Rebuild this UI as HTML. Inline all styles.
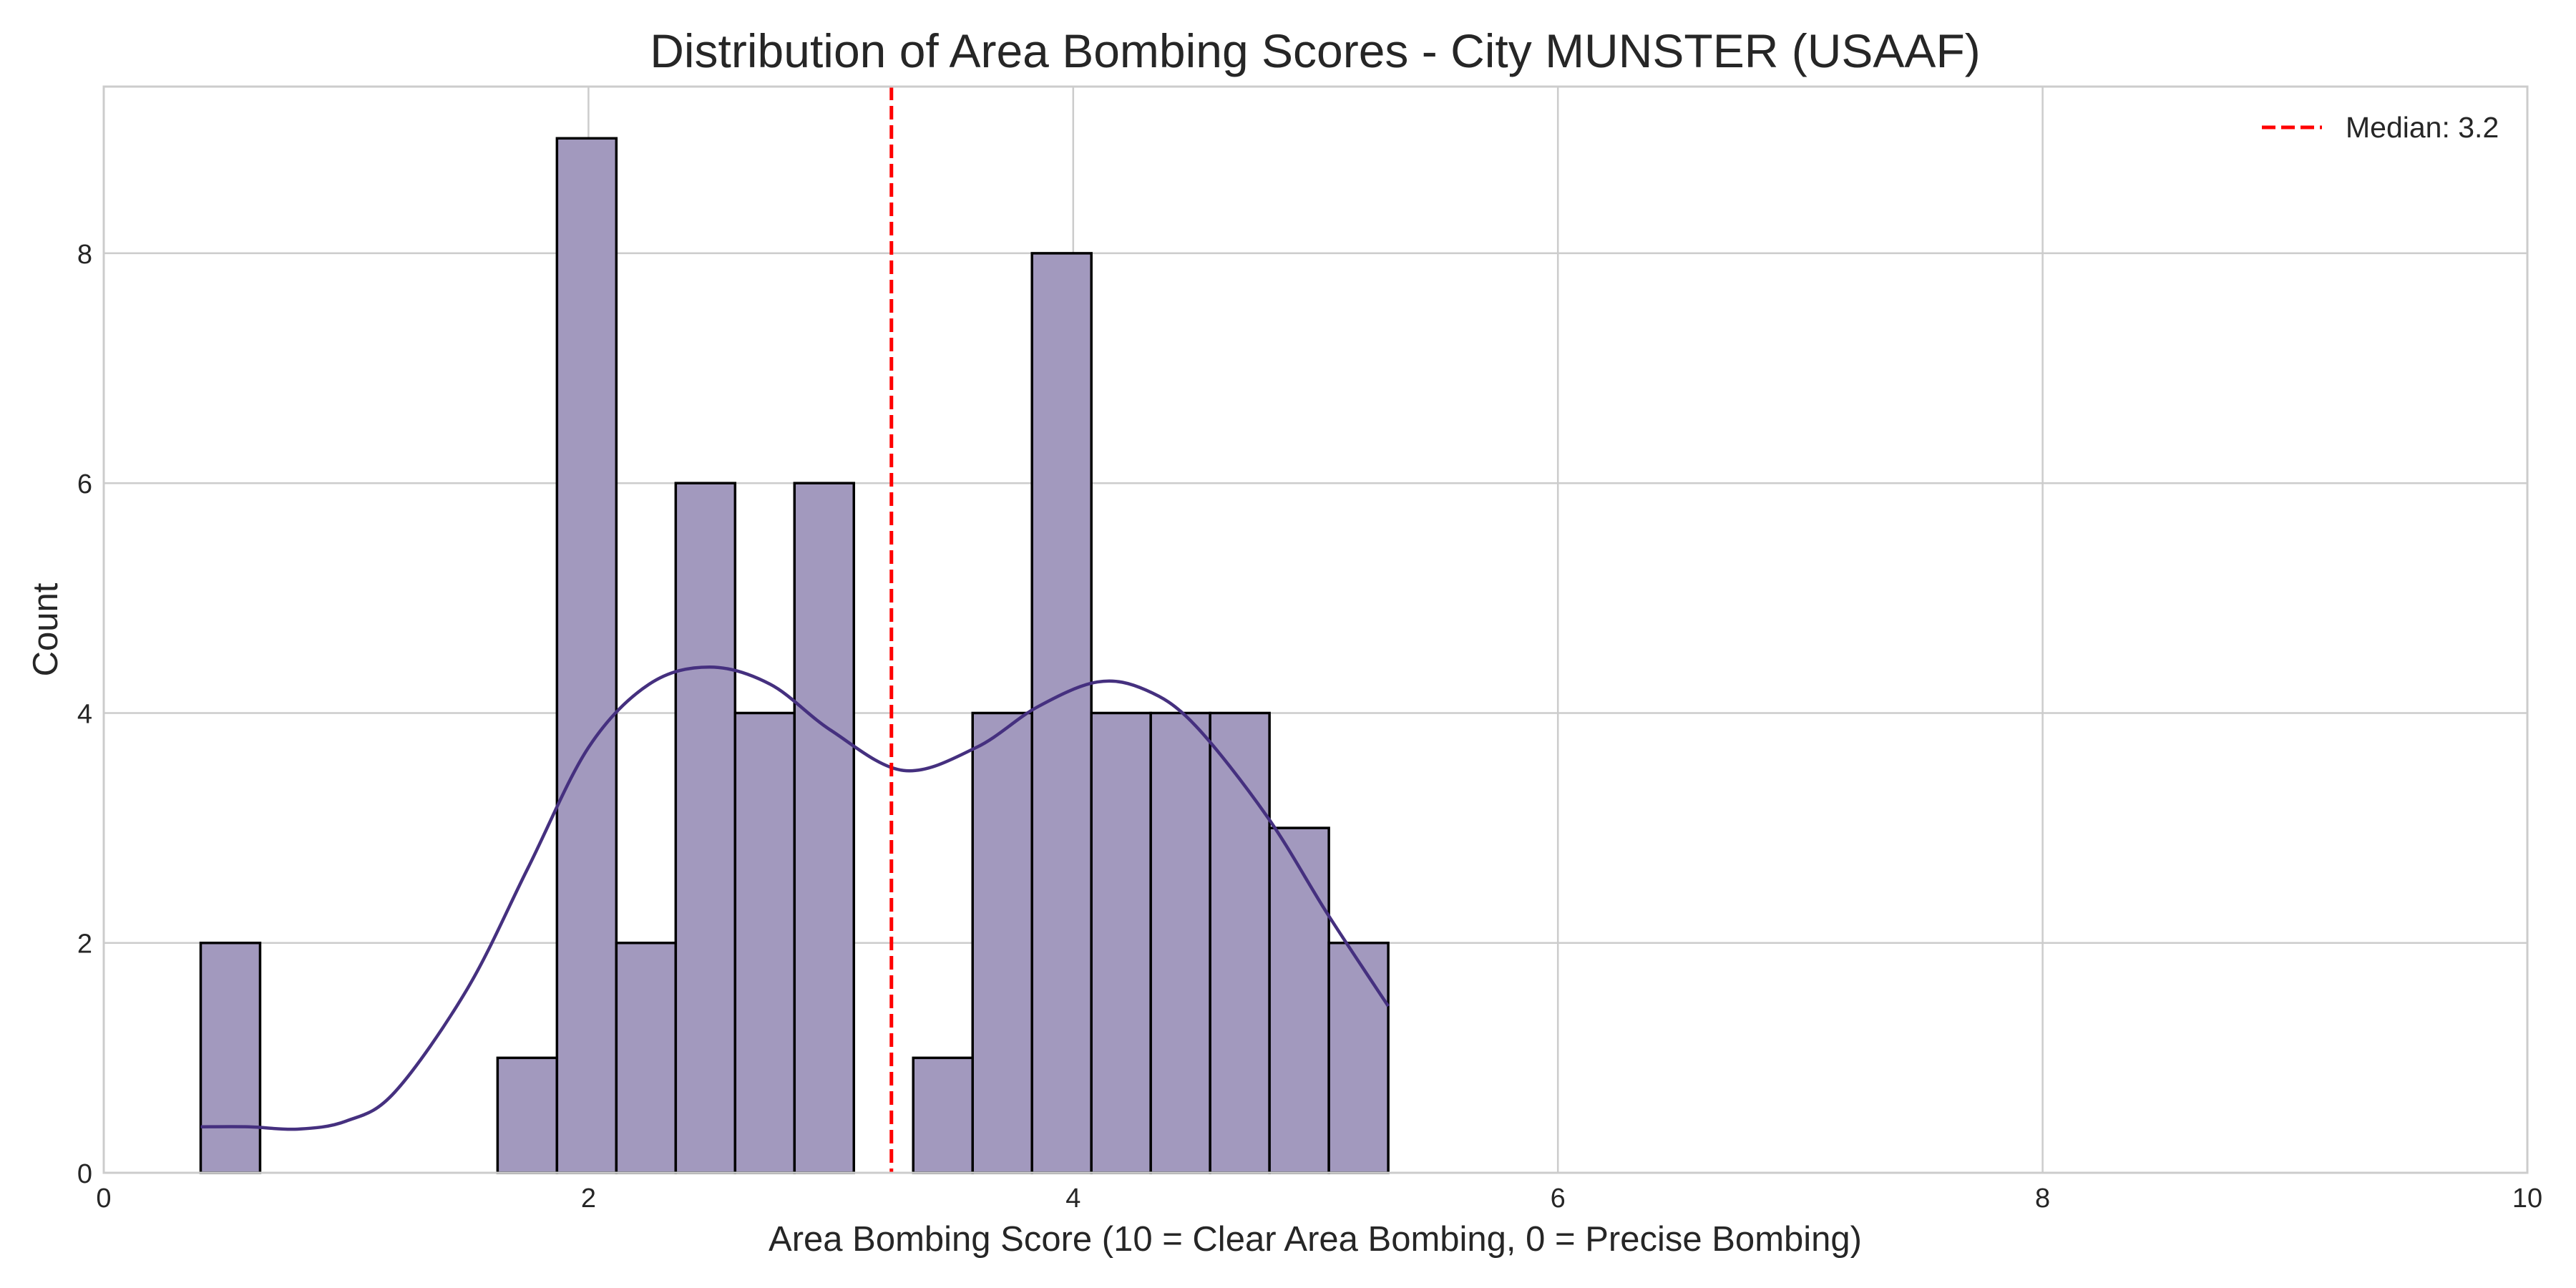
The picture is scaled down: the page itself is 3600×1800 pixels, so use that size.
<!DOCTYPE html>
<html><head><meta charset="utf-8"><style>
html,body{margin:0;padding:0;background:#fff;}
svg{display:block;font-family:"Liberation Sans",Arial,sans-serif;}
</style></head><body>
<svg id="chart" width="3600" height="1800" viewBox="0 0 3600 1800" xmlns="http://www.w3.org/2000/svg">
<rect width="3600" height="1800" fill="#fff"/>
<g id="grid"></g>
<g id="bars"></g>
<g id="kde"></g>
<g id="median"></g>
<g id="frame"></g>
<g id="ticks"></g>
<text x="1838" y="94" font-size="66" text-anchor="middle" fill="#262626">Distribution of Area Bombing Scores - City MUNSTER (USAAF)</text>
<text x="1838" y="1748" font-size="49" text-anchor="middle" fill="#262626">Area Bombing Score (10 = Clear Area Bombing, 0 = Precise Bombing)</text>
<text x="0" y="0" font-size="49" text-anchor="middle" fill="#262626" transform="translate(80,880) rotate(-90)">Count</text>
<g>
<line x1="3161" y1="178" x2="3245" y2="178" stroke="#ff0000" stroke-width="5" stroke-dasharray="19,8"/>
<text x="3278" y="192" font-size="41" fill="#262626">Median: 3.2</text>
</g>
</svg>
<script>
const binStart = 0.4;
const binWidth = 0.245;
const counts = [2,0,0,0,0,1,9,2,6,4,6,0,1,4,8,4,4,4,3,2];
const kdeX = [0.4,0.6,0.8,1.0,1.2,1.5,1.75,2.0,2.25,2.5,2.75,3.0,3.3,3.6,3.85,4.1,4.3,4.5,4.8,5.05,5.3];
const kdeY = [0.4,0.4,0.38,0.45,0.7,1.6,2.65,3.7,4.25,4.4,4.25,3.85,3.5,3.7,4.05,4.27,4.2,3.9,3.1,2.25,1.45];
const medianValue = 3.25;
const xTicks = [0,2,4,6,8,10];
const yTicks = [0,2,4,6,8];

const L=145,R=3532,B=1639,T=121,XMAX=10,YMAX=9.45;
const NS="http://www.w3.org/2000/svg";
const sx=v=>L+(v/XMAX)*(R-L);
const sy=v=>B-(v/YMAX)*(B-T);
function mk(tag,attrs,parent){const e=document.createElementNS(NS,tag);for(const k in attrs)e.setAttribute(k,attrs[k]);document.getElementById(parent).appendChild(e);return e;}

xTicks.forEach(t=>{
  const g=mk('line',{x1:sx(t),x2:sx(t),y1:T,y2:B,stroke:'#cccccc','stroke-width':2.5},'grid');
  
  
  const tx=mk('text',{x:sx(t),y:B+48,'font-size':38,'text-anchor':'middle',fill:'#262626'},'ticks');
  tx.textContent=t;
  
  
});
yTicks.forEach(t=>{
  const g=mk('line',{x1:L,x2:R,y1:sy(t),y2:sy(t),stroke:'#cccccc','stroke-width':2.5},'grid');
  
  
  const tx=mk('text',{x:L-16,y:sy(t)+14,'font-size':38,'text-anchor':'end',fill:'#262626'},'ticks');
  tx.textContent=t;
  
  
});
counts.forEach((c,i)=>{
  if(c<=0)return;
  const x0=sx(binStart+i*binWidth),x1=sx(binStart+(i+1)*binWidth);
  const r=mk('rect',{x:x0,y:sy(c),width:x1-x0,height:B-sy(c),fill:'#a299be',stroke:'#000','stroke-width':3.5},'bars');
  
  
});
const pts=kdeX.map((x,i)=>[sx(x),sy(kdeY[i])]);
let d='M'+pts[0][0]+','+pts[0][1];
for(let i=0;i<pts.length-1;i++){
  const p0=pts[Math.max(0,i-1)],p1=pts[i],p2=pts[i+1],p3=pts[Math.min(pts.length-1,i+2)];
  const c1=[p1[0]+(p2[0]-p0[0])/6,p1[1]+(p2[1]-p0[1])/6];
  const c2=[p2[0]-(p3[0]-p1[0])/6,p2[1]-(p3[1]-p1[1])/6];
  d+=' C'+c1[0]+','+c1[1]+' '+c2[0]+','+c2[1]+' '+p2[0]+','+p2[1];
}
const k=mk('path',{d:d,fill:'none',stroke:'#45307f','stroke-width':4.5},'kde');


const m=mk('line',{x1:sx(medianValue),x2:sx(medianValue),y1:T,y2:B,stroke:'#ff0000','stroke-width':5,'stroke-dasharray':'19,8'},'median');


const f=mk('rect',{x:L,y:T,width:R-L,height:B-T,fill:'none',stroke:'#cccccc','stroke-width':3},'frame');


</script>
</body></html>
